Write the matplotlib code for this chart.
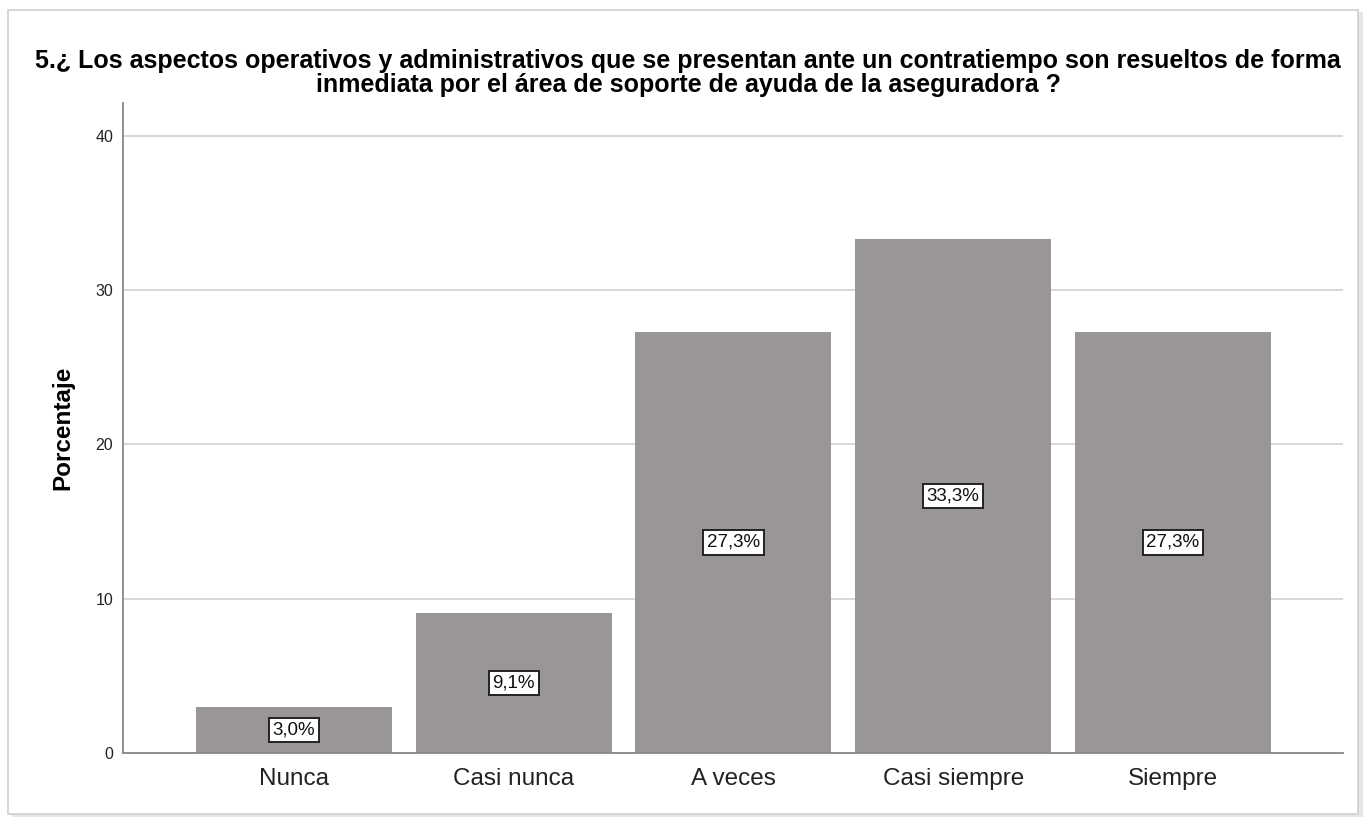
import matplotlib.pyplot as plt
import matplotlib.patches as mpatches

plt.rcParams['font.family'] = ['Liberation Sans', 'DejaVu Sans']

categorias = ['Nunca', 'Casi nunca', 'A veces', 'Casi siempre', 'Siempre']
porcentajes = [3.0, 9.1, 27.3, 33.3, 27.3]
etiquetas = ['3,0%', '9,1%', '27,3%', '33,3%', '27,3%']
yticks = [0, 10, 20, 30, 40]

titulo = ('5.¿ Los aspectos operativos y administrativos que se presentan ante un contratiempo son resueltos de forma\n'
          'inmediata por el área de soporte de ayuda de la aseguradora ?')

fig = plt.figure(figsize=(13.63, 8.17), dpi=100)
fig.patch.set_facecolor('white')

# marco con sombra alrededor del grafico
sombra = mpatches.Rectangle((0.009, 0.0), 0.991, 0.985, transform=fig.transFigure,
                            facecolor='#e6e6e6', edgecolor='none', zorder=-2)
marco = mpatches.Rectangle((0.006, 0.004), 0.99, 0.984, transform=fig.transFigure,
                           facecolor='white', edgecolor='#cfcfcf', linewidth=1.2, zorder=-1)
fig.patches.extend([sombra, marco])

ax = fig.add_axes([0.0902, 0.0783, 0.8951, 0.7957])
ax.set_facecolor('none')

x = range(len(categorias))
barras = ax.bar(x, porcentajes, width=0.892, color='#999695', edgecolor='none', zorder=2)

for b, txt in zip(barras, etiquetas):
    ax.text(b.get_x() + b.get_width() / 2, b.get_height() / 2, txt,
            ha='center', va='center', fontsize=13.5, color='#111111', zorder=3,
            bbox=dict(boxstyle='square,pad=0.2', facecolor='white', edgecolor='#222222', linewidth=1.4))

ax.set_xlim(-0.778, 4.774)
ax.set_ylim(0, 42.14)
ax.set_yticks(yticks)
ax.set_xticks(list(x))
ax.set_xticklabels(categorias, fontsize=17.5, color='#222222')
ax.tick_params(axis='y', length=0, pad=7, labelsize=11.5, labelcolor='#222222')
ax.tick_params(axis='x', length=0, pad=11)
ax.yaxis.grid(True, color='#d4d4d4', linewidth=1.3, zorder=0)
ax.set_axisbelow(True)

for s in ['top', 'right']:
    ax.spines[s].set_visible(False)
ax.spines['left'].set_color('#888888')
ax.spines['bottom'].set_color('#888888')
ax.spines['left'].set_linewidth(1.3)
ax.spines['bottom'].set_linewidth(1.3)

ax.set_ylabel('Porcentaje', fontsize=17.5, fontweight='bold', labelpad=15)
fig.text(0.505, 0.911, titulo, ha='center', va='center', fontsize=18,
         fontweight='bold', linespacing=1.0)

fig.savefig('out.png', dpi=100)
